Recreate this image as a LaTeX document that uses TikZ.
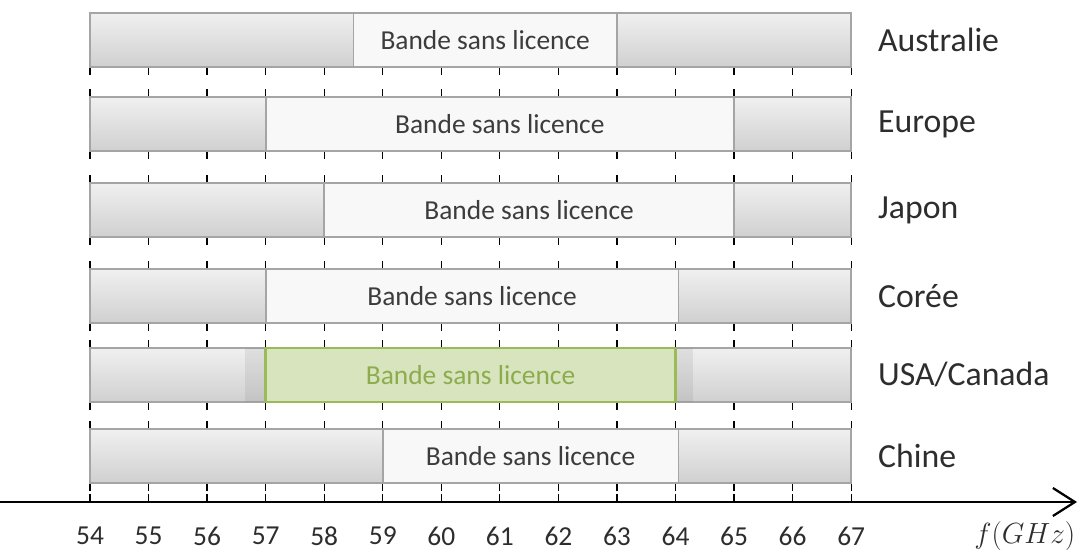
\documentclass[tikz,border=0pt]{standalone}
\usepackage{fontspec}
\setmainfont{Carlito}
\usetikzlibrary{arrows.meta}
\definecolor{bar_gray}{RGB}{165,165,165}
\definecolor{bar_top}{RGB}{240,240,240}
\definecolor{bar_bot}{RGB}{208,208,208}
\definecolor{band_fill}{RGB}{248,248,248}
\definecolor{txt_gray}{RGB}{60,60,60}
\definecolor{band_green}{RGB}{215,228,189}
\definecolor{edge_green}{RGB}{155,187,89}
\definecolor{txt_green}{RGB}{140,172,78}
\newcommand{\gx}[1]{90+58.55*(#1-54)}

\begin{document}
\begin{tikzpicture}[x=0.025cm,y=-0.025cm,semithick]
    \tikzstyle{bar}=[draw=bar_gray, line width=1.3pt, top color=bar_top, bottom color=bar_bot]
    \tikzstyle{band}=[draw=bar_gray, line width=1.3pt, fill=band_fill]
    \tikzstyle{gband}=[draw=edge_green, line width=2pt, fill=band_green]
    \tikzstyle{grid}=[black, line width=0.9pt]
    \tikzstyle{btext}=[text=txt_gray, font=\fontsize{19.5}{22}\selectfont]
    \tikzstyle{country}=[anchor=west, text=txt_gray!75!black, font=\fontsize{24}{28}\selectfont]
    \tikzstyle{tick}=[inner sep=1pt, text=txt_gray!75!black, font=\fontsize{19.5}{22}\selectfont]
    \tikzstyle{axis}=[black, line width=1.6pt, -{Straight Barb[length=5.5mm,width=7mm]}]

    \useasboundingbox (0,0) rectangle (1080,550);

    % dashed grid, seen between the bars
    \foreach \k in {54,...,67}{
      \foreach \a/\b in {67/97, 151/183, 237/269, 323/348, 402/429, 483/502}{
        \draw[grid] ({\gx{\k}},\a) -- ++(0,8);
        \draw[grid] ({\gx{\k}},\b) -- ++(0,-8);
      }
    }

    \foreach \id/\lab/\y/\a/\b in {aus/Australie/13/58.5/63, eur/Europe/97/57/65,
        jap/Japon/183/58/65, cor/Corée/269/57/64.05, chn/Chine/429/59/64.05}{
      \draw[bar] ({\gx{54}},\y) rectangle ({\gx{67}},\y+54);
      \draw[band] ({\gx{\a}},\y) rectangle ({\gx{\b}},\y+54);
      \node[btext] (band-\id) at ({\gx{(\a+\b)/2}},\y+27) {Bande sans licence};
      \node[country] (lbl-\id) at (873,\y+27) {\lab};
    }

    \draw[bar] ({\gx{54}},348) rectangle ({\gx{67}},402);
    \fill[gray, opacity=0.15] ({\gx{56.65}},348) rectangle ({\gx{64.3}},402);
    \draw[gband] ({\gx{57}},348) rectangle ({\gx{64}},402);
    \node[btext, text=txt_green] (band-usa) at ({\gx{60.5}},375) {Bande sans licence};
    \node[country] (lbl-usa) at (873,375) {USA/Canada};

    \coordinate (ax-start) at (0,502);
    \coordinate (ax-end) at (1077,502);
    \draw[axis] (ax-start) -- (ax-end);

    \foreach \k in {54,...,67}
      \node[tick] (t\k) at ({\gx{\k}},536) {\k};
    \node[tick, anchor=east, font=\fontsize{21}{24}\selectfont] (funit) at (1077,536) {$f(GHz)$};
%    \node[tick] (fmin) at ({\gx{54}},560) {};
\end{tikzpicture}
\end{document}
